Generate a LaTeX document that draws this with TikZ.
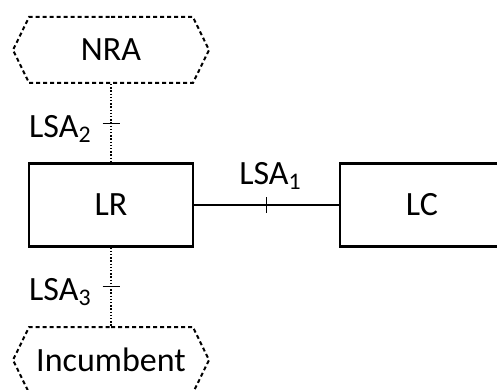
\documentclass[tikz,border=0pt]{standalone}
\usepackage{fontspec}
\setmainfont{Carlito}
\usetikzlibrary{shapes.symbols}

\tikzset{
  box/.style={draw, line width=1.1pt, minimum width=82pt, minimum height=41.5pt, inner sep=0pt},
  cloudbox/.style={draw, line width=1pt, dash pattern=on 2pt off 1.5pt, signal, signal to=east and west,
    signal pointer angle=128, minimum width=98pt, minimum height=33pt, inner sep=0pt},
  solidlink/.style={line width=0.6pt},
  dotlink/.style={line width=0.7pt, dash pattern=on 0.7pt off 0.9pt},
  ticklabel/.style={inner sep=0pt}
}

\begin{document}
\begin{tikzpicture}[x=0.5pt, y=-0.5pt, font=\fontsize{17}{20}\selectfont]
  \useasboundingbox (0,0) rectangle (497,390);
  \clip (0,0) rectangle (497,390);

  % nodes
  \node[box] (lr) at (111, 205) {LR};
  \node[box] (lc) at (422, 205) {LC};
  \node[cloudbox] (nra) at (111, 50) {NRA};
  \node[cloudbox] (inc) at (111, 360) {Incumbent};

  % links
  \draw[solidlink] (lr.east) -- coordinate[midway] (t1) (lc.west);
  \draw[dotlink] (nra.south) -- coordinate[midway] (t2) (lr.north);
  \draw[dotlink] (lr.south) -- coordinate[midway] (t3) (inc.north);

  % ticks
  \draw[solidlink] (t1) ++(0,-8) -- ++(0,16);
  \draw[solidlink] (t2) ++(-8.5,0) -- ++(17,0);
  \draw[solidlink] (t3) ++(-8.5,0) -- ++(17,0);

  % labels
  \node[ticklabel, anchor=base] at ([xshift=2pt, yshift=10.5pt]t1) {LSA\textsubscript{1}};
  \node[ticklabel, anchor=base east] at ([xshift=-9.5pt, yshift=-7pt]t2) {LSA\textsubscript{2}};
  \node[ticklabel, anchor=base east] at ([xshift=-9.5pt, yshift=-7pt]t3) {LSA\textsubscript{3}};
\end{tikzpicture}
\end{document}
